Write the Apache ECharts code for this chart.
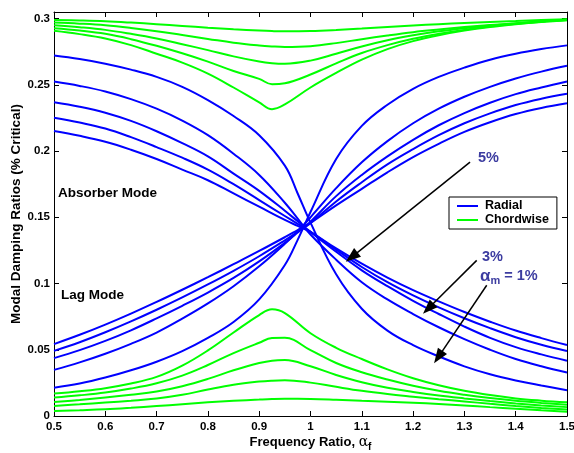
<!DOCTYPE html>
<html><head><meta charset="utf-8">
<script src="https://cdn.jsdelivr.net/npm/echarts@6/dist/echarts.min.js"></script>
<style>html,body{margin:0;padding:0;background:#fff}#c{width:574px;height:453px}</style>
</head><body><div id="c"></div>
<script>
// x grids
const xRadial = [0.5,0.55,0.6,0.65,0.7,0.75,0.8,0.85,0.9,0.95,0.975,1.0,1.05,1.1,1.15,1.2,1.25,1.3,1.35,1.4,1.45,1.5];
const xChord  = [0.5,0.55,0.6,0.65,0.7,0.75,0.8,0.85,0.9,0.925,0.95,1.0,1.05,1.1,1.15,1.2,1.25,1.3,1.35,1.4,1.45,1.5];

// Radial (blue) curves falling from the upper left
const radialDown1 = [0.2722,0.2695,0.266,0.2615,0.256,0.2485,0.2385,0.2265,0.212,0.189,0.168,0.146,0.107,0.081,0.0645,0.0535,0.045,0.0375,0.0315,0.0268,0.0230,0.0195];
const radialDown2 = [0.2525,0.2492,0.245,0.2392,0.232,0.223,0.212,0.198,0.182,0.161,0.149,0.137,0.118,0.101,0.088,0.077,0.067,0.058,0.050,0.043,0.0375,0.0328];
const radialDown3 = [0.2369,0.2335,0.229,0.2228,0.215,0.206,0.196,0.183,0.170,0.155,0.147,0.139,0.124,0.110,0.098,0.087,0.077,0.0675,0.059,0.052,0.0465,0.0417];
const radialDown4 = [0.2252,0.2215,0.217,0.2105,0.203,0.195,0.186,0.175,0.163,0.151,0.145,0.139,0.1255,0.1125,0.101,0.091,0.082,0.0738,0.0663,0.0595,0.0538,0.049];
const radialDown5 = [0.2152,0.2115,0.207,0.201,0.194,0.186,0.178,0.168,0.158,0.148,0.1435,0.139,0.1265,0.115,0.1045,0.095,0.0865,0.0785,0.0712,0.0645,0.0588,0.0536];
// Radial (blue) curves rising from the lower left
const radialUp1 = [0.0214,0.0245,0.029,0.0345,0.041,0.049,0.059,0.071,0.088,0.114,0.133,0.154,0.194,0.219,0.235,0.247,0.256,0.263,0.269,0.2735,0.277,0.2798];
const radialUp2 = [0.0348,0.0405,0.047,0.0545,0.063,0.0735,0.085,0.098,0.113,0.130,0.1395,0.150,0.172,0.1915,0.2075,0.221,0.232,0.241,0.2485,0.2548,0.260,0.2644];
const radialUp3 = [0.0437,0.0497,0.0567,0.0647,0.0737,0.0832,0.0932,0.1042,0.1167,0.1307,0.1385,0.1467,0.166,0.182,0.196,0.2085,0.2195,0.2287,0.2365,0.243,0.248,0.2525];
const radialUp4 = [0.0492,0.0557,0.0632,0.0714,0.0802,0.0895,0.0993,0.1096,0.1206,0.1326,0.139,0.1456,0.162,0.1765,0.190,0.2015,0.212,0.221,0.2285,0.2348,0.2395,0.2432];
const radialUp5 = [0.0543,0.0613,0.069,0.0773,0.0861,0.0953,0.1048,0.1146,0.1246,0.135,0.1404,0.1458,0.159,0.1715,0.184,0.1955,0.2055,0.2145,0.2218,0.228,0.2326,0.2361];

// Chordwise (green) curves near 0.3
const chordUpper1 = [0.2990,0.2986,0.2980,0.2970,0.2958,0.2945,0.2932,0.2920,0.2910,0.2906,0.2904,0.2906,0.2914,0.2925,0.2937,0.2948,0.2958,0.2967,0.2975,0.2982,0.2989,0.2995];
const chordUpper2 = [0.2970,0.2962,0.2950,0.2930,0.2905,0.2876,0.2847,0.2818,0.2797,0.2790,0.2786,0.2792,0.2815,0.2845,0.2873,0.2898,0.2918,0.2936,0.2951,0.2965,0.2979,0.2993];
const chordUpper3 = [0.2950,0.2935,0.2915,0.2885,0.2850,0.2807,0.2762,0.2715,0.2676,0.2664,0.2660,0.2683,0.2735,0.2790,0.2837,0.2874,0.2904,0.2928,0.2948,0.2964,0.2978,0.2990];
const chordUpper4 = [0.2928,0.2910,0.2885,0.2845,0.2795,0.2738,0.2675,0.2605,0.2545,0.2505,0.2512,0.2578,0.2662,0.2740,0.2800,0.2848,0.2885,0.2915,0.2940,0.2960,0.2977,0.2990];
const chordUpper5 = [0.2908,0.2883,0.2850,0.2800,0.2735,0.2668,0.2585,0.2480,0.2368,0.2316,0.2352,0.2480,0.2590,0.2690,0.2770,0.2830,0.2875,0.2910,0.2937,0.2958,0.2975,0.2988];
// Chordwise (green) curves near 0
const chordLower1 = [0.0169,0.0187,0.0210,0.0245,0.0295,0.0380,0.0495,0.0630,0.0762,0.0805,0.0777,0.0625,0.0515,0.0430,0.0352,0.0285,0.0232,0.0190,0.0158,0.0133,0.0116,0.0103];
const chordLower2 = [0.0139,0.0156,0.0177,0.0207,0.0247,0.0305,0.0385,0.0475,0.0553,0.0588,0.0590,0.0497,0.0400,0.0330,0.0275,0.0228,0.0190,0.0160,0.0135,0.0115,0.0099,0.0085];
const chordLower3 = [0.0106,0.0121,0.0139,0.0160,0.0185,0.0225,0.0280,0.0345,0.0400,0.0418,0.0422,0.0375,0.0310,0.0255,0.0213,0.0182,0.0155,0.0133,0.0113,0.0095,0.0080,0.0067];
const chordLower4 = [0.0076,0.0088,0.0101,0.0115,0.0132,0.0160,0.0200,0.0236,0.0260,0.0267,0.0270,0.0252,0.0220,0.0190,0.0166,0.0146,0.0127,0.0110,0.0092,0.0075,0.0061,0.0049];
const chordLower5 = [0.0038,0.0044,0.0051,0.0062,0.0075,0.0089,0.0103,0.0115,0.0124,0.0128,0.0130,0.0129,0.0123,0.0115,0.0108,0.0100,0.0091,0.0080,0.0067,0.0055,0.0043,0.0032];

// annotation arrows: [fromX, fromY, toX, toY]
const arrow5 = [1.311, 0.1917, 1.0803, 0.1200];
const arrow3 = [1.324, 0.1175, 1.2296, 0.0811];
const arrow1 = [1.3435, 0.0987, 1.2491, 0.0445];

const BLUE = '#0000ff', GREEN = '#00ff00', NOTE = '#3c3ca0';
const FONT = '"Liberation Sans", Arial, Helvetica, sans-serif';

function mk(name, xs, ys, color) {
  return {
    type: 'line', name: name,
    data: xs.map((x, i) => [x, ys[i]]),
    showSymbol: false, symbol: 'none',
    smooth: 0.4,
    lineStyle: { color: color, width: 2 },
    itemStyle: { color: color },
    silent: true
  };
}

const series = [];
[radialDown1, radialDown2, radialDown3, radialDown4, radialDown5,
 radialUp1, radialUp2, radialUp3, radialUp4, radialUp5].forEach(a => series.push(mk('Radial', xRadial, a, BLUE)));
[chordUpper1, chordUpper2, chordUpper3, chordUpper4, chordUpper5,
 chordLower1, chordLower2, chordLower3, chordLower4, chordLower5].forEach(a => series.push(mk('Chordwise', xChord, a, GREEN)));

series[0].markLine = {
  silent: true, animation: false,
  symbol: ['none', 'triangle'], symbolSize: 12,
  label: { show: false },
  itemStyle: { color: '#000' },
  lineStyle: { color: '#000', width: 1.5, type: 'solid' },
  emphasis: { disabled: true },
  data: [arrow5, arrow3, arrow1].map(a => [
    { coord: [a[0], a[1]], symbol: 'none' },
    { coord: [a[2], a[3]], symbol: 'triangle', symbolSize: [11, 15] }
  ])
};

const chart = echarts.init(document.getElementById('c'), null, { renderer: 'canvas' });
const axisCommon = {
  axisLine: { show: true, onZero: false, lineStyle: { color: '#000', width: 1 } },
  axisTick: { show: true, inside: true, length: 5, lineStyle: { color: '#000' } },
  splitLine: { show: false }
};
chart.setOption({
  animation: false,
  backgroundColor: '#fff',
  grid: { left: 54, right: 7, top: 12, bottom: 37, containLabel: false, outerBoundsMode: 'none' },
  legend: {
    data: ['Radial', 'Chordwise'],
    orient: 'vertical', left: 449, top: 197,
    icon: 'rect', itemWidth: 21, itemHeight: 2, itemGap: 0,
    padding: [2, 8, 2, 8],
    borderColor: '#000', borderWidth: 1, backgroundColor: '#fff',
    textStyle: { fontFamily: FONT, fontWeight: 'bold', fontSize: 12.5, color: '#000', lineHeight: 14, padding: [0, 0, 0, 2] }
  },
  xAxis: [
    Object.assign({
      type: 'value', min: 0.5, max: 1.5, interval: 0.1, position: 'bottom',
      axisLabel: { margin: 5, fontFamily: FONT, fontWeight: 'bold', fontSize: 11.5, color: '#000' },
      name: '{t|Frequency Ratio, }{a|α}{s|f}',
      nameLocation: 'middle', nameGap: 17, nameMoveOverlap: false,
      nameTextStyle: {
        rich: {
          t: { fontFamily: FONT, fontWeight: 'bold', fontSize: 13, color: '#000', verticalAlign: 'middle', lineHeight: 18 },
          a: { fontFamily: '"DejaVu Serif", serif', fontSize: 14, color: '#000', verticalAlign: 'middle', lineHeight: 18 },
          s: { fontFamily: FONT, fontWeight: 'bold', fontSize: 10, color: '#000', verticalAlign: 'bottom', lineHeight: 19 }
        }
      }
    }, axisCommon),
    Object.assign({
      type: 'value', min: 0.5, max: 1.5, interval: 0.1, position: 'top',
      axisLabel: { show: false }
    }, axisCommon)
  ],
  yAxis: [
    Object.assign({
      type: 'value', min: 0, max: 0.305, interval: 0.05, position: 'left',
      axisLabel: { margin: 4, fontFamily: FONT, fontWeight: 'bold', fontSize: 11.5, color: '#000', showMaxLabel: false },
      name: 'Modal Damping Ratios (% Critical)',
      nameLocation: 'middle', nameGap: 31, nameMoveOverlap: false,
      nameTextStyle: { fontFamily: FONT, fontWeight: 'bold', fontSize: 13.5, color: '#000' }
    }, axisCommon),
    Object.assign({
      type: 'value', min: 0, max: 0.305, interval: 0.05, position: 'right',
      axisLabel: { show: false }
    }, axisCommon)
  ],
  graphic: [
    { type: 'text', x: 58, y: 193, silent: true, style: { text: 'Absorber Mode', fontFamily: FONT, fontWeight: 'bold', fontSize: 13.5, fill: '#000', verticalAlign: 'middle' } },
    { type: 'text', x: 61, y: 295, silent: true, style: { text: 'Lag Mode', fontFamily: FONT, fontWeight: 'bold', fontSize: 13.5, fill: '#000', verticalAlign: 'middle' } },
    { type: 'text', x: 478, y: 158, silent: true, style: { text: '5%', fontFamily: FONT, fontWeight: 'bold', fontSize: 14.5, fill: NOTE, verticalAlign: 'middle' } },
    { type: 'text', x: 482, y: 257, silent: true, style: { text: '3%', fontFamily: FONT, fontWeight: 'bold', fontSize: 14.5, fill: NOTE, verticalAlign: 'middle' } },
    { type: 'text', x: 480, y: 276, silent: true, style: {
        text: '{g|α}{s|m}{a| = 1%}', verticalAlign: 'middle',
        rich: {
          g: { fontFamily: FONT, fontWeight: 'bold', fontSize: 17, fill: NOTE, color: NOTE, verticalAlign: 'middle', lineHeight: 20 },
          a: { fontFamily: FONT, fontWeight: 'bold', fontSize: 14.5, fill: NOTE, color: NOTE, verticalAlign: 'middle', lineHeight: 20 },
          s: { fontFamily: FONT, fontWeight: 'bold', fontSize: 11, fill: NOTE, color: NOTE, verticalAlign: 'bottom', lineHeight: 21 }
        } } }
  ],
  series: series
});
</script>
</body></html>
